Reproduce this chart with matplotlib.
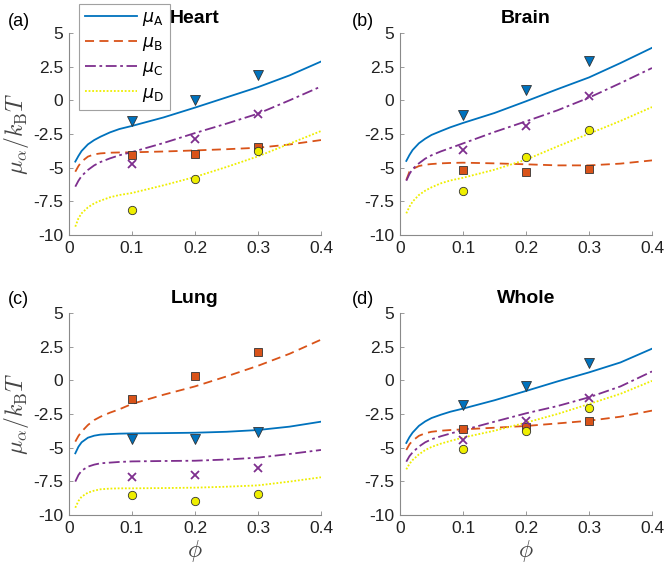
import matplotlib
matplotlib.use("Agg")
import matplotlib.pyplot as plt

# ---------------- data ----------------
phi_curve = [0.01, 0.015, 0.02, 0.03, 0.04, 0.05, 0.065, 0.08, 0.1,
             0.15, 0.2, 0.25, 0.3, 0.35, 0.4]
phi_pts = [0.1, 0.2, 0.3]
panel_titles = ["Heart", "Brain", "Lung", "Whole"]
panel_tags = ["(a)", "(b)", "(c)", "(d)"]
legend_labels = [r"$\mu_{\mathrm{A}}$", r"$\mu_{\mathrm{B}}$", r"$\mu_{\mathrm{C}}$", r"$\mu_{\mathrm{D}}$"]

# Heart
heart_A = [-4.55, -4.13, -3.76, -3.27, -2.95, -2.70, -2.38, -2.13, -1.90, -1.27, -0.54, 0.22, 0.98, 1.85, 2.88]
heart_B = [-5.30, -4.88, -4.55, -4.18, -4.01, -3.94, -3.89, -3.87, -3.86, -3.80, -3.72, -3.63, -3.52, -3.28, -2.95]
heart_C = [-6.41, -5.97, -5.62, -5.17, -4.83, -4.58, -4.31, -4.08, -3.84, -3.17, -2.43, -1.73, -0.99, 0.00, 1.03]
heart_D = [-9.38, -8.76, -8.39, -7.95, -7.65, -7.45, -7.20, -7.03, -6.88, -6.31, -5.69, -4.95, -4.16, -3.22, -2.28]
heart_pA = [-1.52, 0.05, 1.85]
heart_pB = [-4.08, -3.96, -3.47]
heart_pC = [-4.70, -2.85, -0.99]
heart_pD = [-8.12, -5.82, -3.76]

# Brain
brain_A = [-4.50, -4.06, -3.69, -3.19, -2.85, -2.57, -2.28, -2.00, -1.68, -0.94, -0.07, 0.83, 1.70, 2.77, 3.90]
brain_B = [-5.92, -5.30, -5.10, -4.88, -4.78, -4.73, -4.68, -4.65, -4.63, -4.68, -4.75, -4.83, -4.83, -4.70, -4.46]
brain_C = [-5.97, -5.47, -5.10, -4.68, -4.33, -4.08, -3.79, -3.54, -3.20, -2.35, -1.56, -0.74, 0.20, 1.28, 2.40]
brain_D = [-8.39, -7.90, -7.52, -7.03, -6.71, -6.46, -6.16, -5.95, -5.75, -5.15, -4.41, -3.42, -2.48, -1.53, -0.50]
brain_pA = [-1.11, 0.78, 2.94]
brain_pB = [-5.20, -5.32, -5.07]
brain_pC = [-3.71, -1.93, 0.35]
brain_pD = [-6.73, -4.21, -2.18]

# Lung
lung_A = [-5.42, -4.93, -4.60, -4.26, -4.11, -4.03, -3.99, -3.96, -3.94, -3.92, -3.89, -3.82, -3.69, -3.44, -3.07]
lung_B = [-4.55, -4.13, -3.81, -3.32, -2.95, -2.70, -2.40, -2.15, -1.75, -1.07, -0.45, 0.29, 1.08, 1.97, 3.02]
lung_C = [-7.52, -7.03, -6.71, -6.41, -6.26, -6.16, -6.11, -6.06, -6.02, -5.99, -5.97, -5.88, -5.74, -5.47, -5.17]
lung_D = [-9.46, -8.96, -8.64, -8.34, -8.19, -8.09, -8.04, -8.02, -8.02, -8.00, -7.97, -7.90, -7.80, -7.52, -7.20]
lung_pA = [-4.36, -4.36, -3.86]
lung_pB = [-1.41, 0.29, 2.07]
lung_pC = [-7.15, -7.05, -6.51]
lung_pD = [-8.51, -8.99, -8.42]

# Whole
whole_A = [-4.65, -4.22, -3.88, -3.38, -3.05, -2.80, -2.55, -2.33, -2.10, -1.48, -0.79, -0.08, 0.59, 1.33, 2.35]
whole_B = [-5.17, -4.75, -4.48, -4.12, -3.93, -3.82, -3.74, -3.69, -3.64, -3.52, -3.39, -3.20, -3.00, -2.70, -2.25]
whole_C = [-6.04, -5.63, -5.35, -4.92, -4.60, -4.38, -4.15, -3.95, -3.70, -3.07, -2.45, -1.91, -1.26, -0.45, 0.66]
whole_D = [-6.61, -6.20, -5.92, -5.50, -5.18, -4.95, -4.70, -4.50, -4.25, -3.74, -3.14, -2.50, -1.76, -1.00, -0.04]
whole_pA = [-1.83, -0.45, 1.28]
whole_pB = [-3.64, -3.44, -3.00]
whole_pC = [-4.43, -3.04, -1.29]
whole_pD = [-5.12, -3.74, -2.08]

xticks = [0, 0.1, 0.2, 0.3, 0.4]
xticklabels = ["0", "0.1", "0.2", "0.3", "0.4"]
yticks = [-10, -7.5, -5, -2.5, 0, 2.5, 5]
yticklabels = ["-10", "-7.5", "-5", "-2.5", "0", "2.5", "5"]

# ---------------- style ----------------
plt.rcParams['font.family'] = ['Liberation Sans', 'DejaVu Sans']
plt.rcParams['mathtext.fontset'] = 'dejavusans'

colors = ["#0072BD", "#D95319", "#7E2F8E", "#EEEE00"]
lstyles = ["-", (0, (5, 3)), (0, (6, 2, 1.5, 2)), (0, (1, 1))]
markers = ["v", "s", "x", "o"]
msizes = [7, 5.5, 6, 6]

curves = [
    (heart_A, heart_B, heart_C, heart_D),
    (brain_A, brain_B, brain_C, brain_D),
    (lung_A, lung_B, lung_C, lung_D),
    (whole_A, whole_B, whole_C, whole_D),
]
points = [
    (heart_pA, heart_pB, heart_pC, heart_pD),
    (brain_pA, brain_pB, brain_pC, brain_pD),
    (lung_pA, lung_pB, lung_pC, lung_pD),
    (whole_pA, whole_pB, whole_pC, whole_pD),
]

W, H = 664, 564
fig = plt.figure(figsize=(W / 100, H / 100), dpi=100)

# axes boxes in pixels: (left, top, right, bottom)
boxes = [(69, 33, 321, 235), (400, 33, 652, 235),
         (69, 313, 321, 515), (400, 313, 652, 515)]
tag_pos = [(8, 22), (352, 22), (8, 300), (352, 300)]

for i, (l, t, r, b) in enumerate(boxes):
    ax = fig.add_axes([l / W, 1 - b / H, (r - l) / W, (b - t) / H])
    handles = []
    for k in range(4):
        h, = ax.plot(phi_curve, curves[i][k], color=colors[k], ls=lstyles[k], lw=1.3)
        handles.append(h)
    for k in range(4):
        if markers[k] == "x":
            ax.plot(phi_pts, points[i][k], ls="none", marker="x", ms=msizes[k],
                    mec=colors[k], mew=1.3)
        else:
            ax.plot(phi_pts, points[i][k], ls="none", marker=markers[k], ms=msizes[k],
                    mfc=colors[k], mec="#333333", mew=0.6)
    ax.set_xlim(0, 0.4)
    ax.set_ylim(-10, 5)
    ax.set_xticks(xticks)
    ax.set_xticklabels(xticklabels)
    ax.set_yticks(yticks)
    ax.set_yticklabels(yticklabels)
    for s in ["top", "right"]:
        ax.spines[s].set_visible(False)
    for s in ["left", "bottom"]:
        ax.spines[s].set_color("#8a8a8a")
        ax.spines[s].set_linewidth(0.8)
    ax.tick_params(direction="in", length=3, width=0.6, color="#8a8a8a",
                   labelsize=12.5, labelcolor="#222222", pad=4)
    ax.set_title(panel_titles[i], fontsize=14, fontweight="bold", pad=7)
    fig.text(tag_pos[i][0] / W, 1 - tag_pos[i][1] / H, panel_tags[i],
             fontsize=13, ha="left", va="center")
    if i in (0, 2):
        ax.set_ylabel(r"$\mu_\alpha/k_{\mathrm{B}}T$", fontsize=17,
                      math_fontfamily="cm", color="#444444", labelpad=2)
    if i in (2, 3):
        ax.set_xlabel(r"$\phi$", fontsize=17, math_fontfamily="cm",
                      color="#444444", labelpad=2)
    if i == 0:
        leg = ax.legend(handles, legend_labels, loc="upper left",
                        bbox_to_anchor=(79 / W, 1 - 4 / H),
                        bbox_transform=fig.transFigure,
                        fontsize=12.5, frameon=True, fancybox=False,
                        handlelength=3.0, handletextpad=0.3,
                        borderpad=0.35, labelspacing=0.4, borderaxespad=0)
        leg.get_frame().set_edgecolor("#8a8a8a")
        leg.get_frame().set_linewidth(0.8)

fig.savefig("out.png", dpi=100)
